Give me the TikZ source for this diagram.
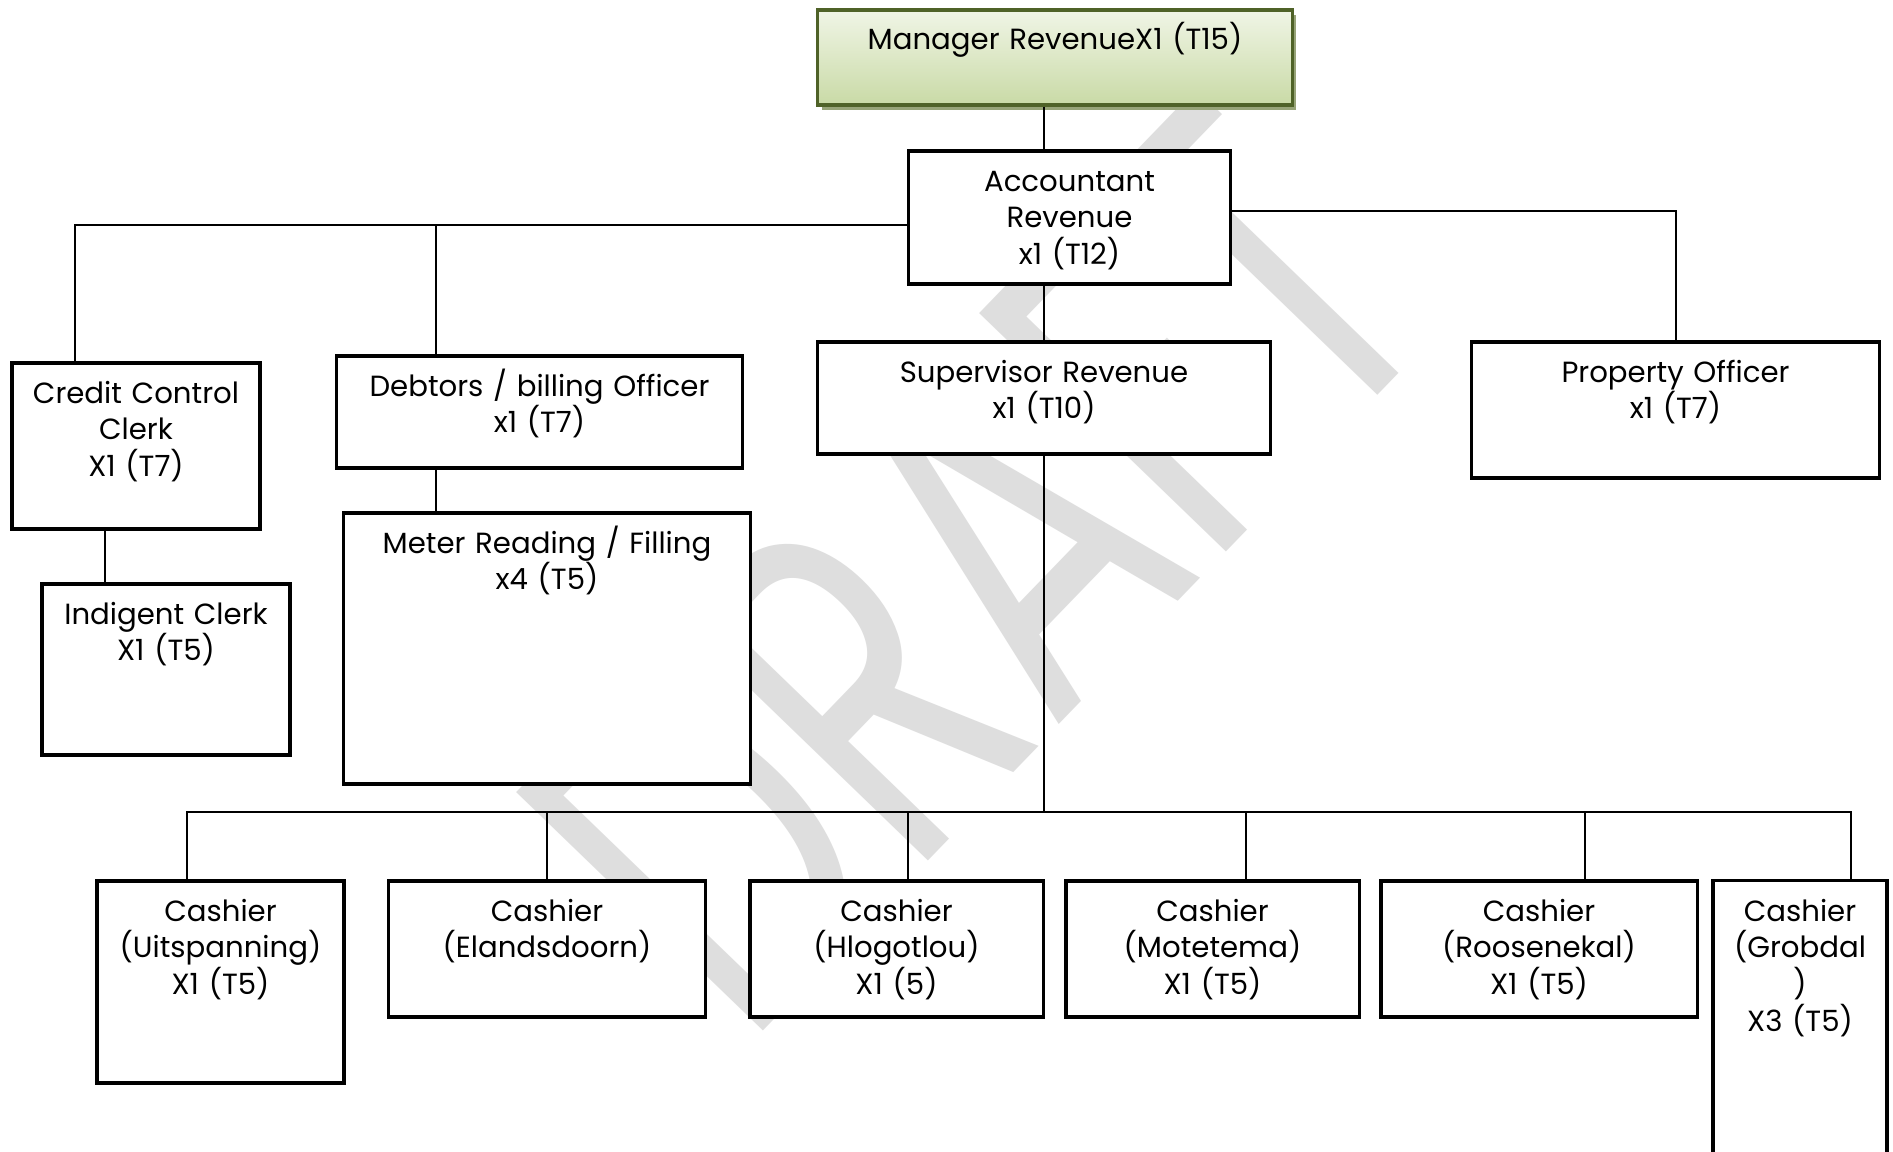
\documentclass[tikz,border=0pt]{standalone}
\usepackage{fontspec}
\setmainfont{Poppins}
\usetikzlibrary{shadows}

\definecolor{mgrlight}{HTML}{F0F5E6}
\definecolor{mgrdark}{HTML}{C9DAA6}
\definecolor{mgredge}{HTML}{4F6228}
\definecolor{mgrshade}{HTML}{97A478}
\definecolor{wmark}{HTML}{DEDEDE}

\newcommand{\boxfont}{\fontsize{8.3}{10.4}\selectfont}

\tikzset{
  post/.style={draw, fill=white, line width=0.9pt, inner sep=0pt},
  lbl/.style={anchor=base, inner sep=0pt, align=center, font=\boxfont},
  link/.style={line width=0.7pt},
}

\begin{document}
\begin{tikzpicture}[x=0.01cm, y=-0.01cm]
\path[use as bounding box, fill=white] (0,0) rectangle (1893,1152);

% watermark
\node[text=wmark, rotate=46, inner sep=0pt, font=\fontsize{140}{140}\selectfont] (draft) at (975,565) {\scalebox{0.68}[1]{DRAFT}};

% top of the tree
\node[post, draw=mgredge, minimum width=4.74cm, minimum height=0.95cm, top color=mgrlight, bottom color=mgrdark,
      general shadow={fill=mgrshade, shadow xshift=0.04cm, shadow yshift=-0.05cm}] (mgr) at (1055,57.5) {};
\node[post, minimum width=3.21cm, minimum height=1.33cm] (acc) at (1069.5,217.5) {};

% second row
\node[post, minimum width=2.48cm, minimum height=1.66cm] (credit) at (136,446) {};
\node[post, minimum width=4.05cm, minimum height=1.12cm] (debt) at (539.5,412) {};
\node[post, minimum width=4.52cm, minimum height=1.12cm] (sup) at (1044,398) {};
\node[post, minimum width=4.07cm, minimum height=1.36cm] (prop) at (1675.5,410) {};

% third row
\node[post, minimum width=2.48cm, minimum height=1.71cm] (indig) at (166,669.5) {};
\node[post, minimum width=4.06cm, minimum height=2.71cm] (meter) at (547,648.5) {};

% cashiers
\node[post, minimum width=2.47cm, minimum height=2.02cm] (cash1) at (220.5,982) {};
\node[post, minimum width=3.16cm, minimum height=1.36cm] (cash2) at (547,949) {};
\node[post, minimum width=2.93cm, minimum height=1.36cm] (cash3) at (896.5,949) {};
\node[post, minimum width=2.93cm, minimum height=1.36cm] (cash4) at (1212.5,949) {};
\node[post, minimum width=3.16cm, minimum height=1.36cm] (cash5) at (1539,949) {};
\node[post, minimum width=1.74cm, minimum height=2.89cm] (cash6) at (1800,1025.5) {};

% labels
\node[lbl, text width=4.5cm] (mgr-t) at ([yshift=-0.41cm]mgr.north) {Manager RevenueX1 (T15)};
\node[lbl, text width=3.0cm] (acc-t) at ([yshift=-0.42cm]acc.north) {Accountant\\Revenue\\x1 (T12)};
\node[lbl, text width=2.3cm] (credit-t) at ([yshift=-0.42cm]credit.north) {Credit Control\\Clerk\\X1 (T7)};
\node[lbl, text width=3.9cm] (debt-t) at ([yshift=-0.42cm]debt.north) {Debtors / billing Officer\\x1 (T7)};
\node[lbl, text width=4.3cm] (sup-t) at ([yshift=-0.42cm]sup.north) {Supervisor Revenue\\x1 (T10)};
\node[lbl, text width=3.9cm] (prop-t) at ([yshift=-0.42cm]prop.north) {Property Officer\\x1 (T7)};
\node[lbl, text width=2.3cm] (indig-t) at ([yshift=-0.42cm]indig.north) {Indigent Clerk\\X1 (T5)};
\node[lbl, text width=3.9cm] (meter-t) at ([yshift=-0.42cm]meter.north) {Meter Reading / Filling\\x4 (T5)};
\node[lbl, text width=2.3cm] (cash1-t) at ([yshift=-0.42cm]cash1.north) {Cashier\\(Uitspanning)\\X1 (T5)};
\node[lbl, text width=3.0cm] (cash2-t) at ([yshift=-0.42cm]cash2.north) {Cashier\\(Elandsdoorn)};
\node[lbl, text width=2.8cm] (cash3-t) at ([yshift=-0.42cm]cash3.north) {Cashier\\(Hlogotlou)\\X1 (5)};
\node[lbl, text width=2.8cm] (cash4-t) at ([yshift=-0.42cm]cash4.north) {Cashier\\(Motetema)\\X1 (T5)};
\node[lbl, text width=3.0cm] (cash5-t) at ([yshift=-0.42cm]cash5.north) {Cashier\\(Roosenekal)\\X1 (T5)};
\node[lbl, text width=1.6cm] (cash6-t) at ([yshift=-0.42cm]cash6.north) {Cashier\\(Grobdal\\)\\X3 (T5)};

% reporting lines
\coordinate (upl) at (75,225);
\coordinate (upd) at (436,225);
\coordinate (upr) at (1676,211);
\coordinate (busl) at (187,812);
\coordinate (busr) at (1851,812);

\draw[link] (mgr.south -| sup.north) -- (acc.north -| sup.north);
\draw[link] (acc.south -| sup.north) -- (sup.north);
\draw[link] (acc.west |- upl) -- (upl) -- (upl |- credit.north);
\draw[link] (upd) -- (upd |- debt.north);
\draw[link] (acc.east |- upr) -- (upr) -- (upr |- prop.north);
\draw[link] ([xshift=-0.31cm]credit.south) -- ([xshift=-0.31cm]credit.south |- indig.north);
\draw[link] (upd |- debt.south) -- (upd |- meter.north);
\draw[link] (sup.south) -- (sup.south |- busl);
\draw[link] (busl |- cash1.north) -- (busl) -- (busr) -- (busr |- cash6.north);
\foreach \x/\n in {547/cash2, 908/cash3, 1246/cash4, 1585/cash5} {
  \coordinate (d-\n) at (\x,812);
  \draw[link] (d-\n) -- (d-\n |- \n.north);
}
\end{tikzpicture}
\end{document}
